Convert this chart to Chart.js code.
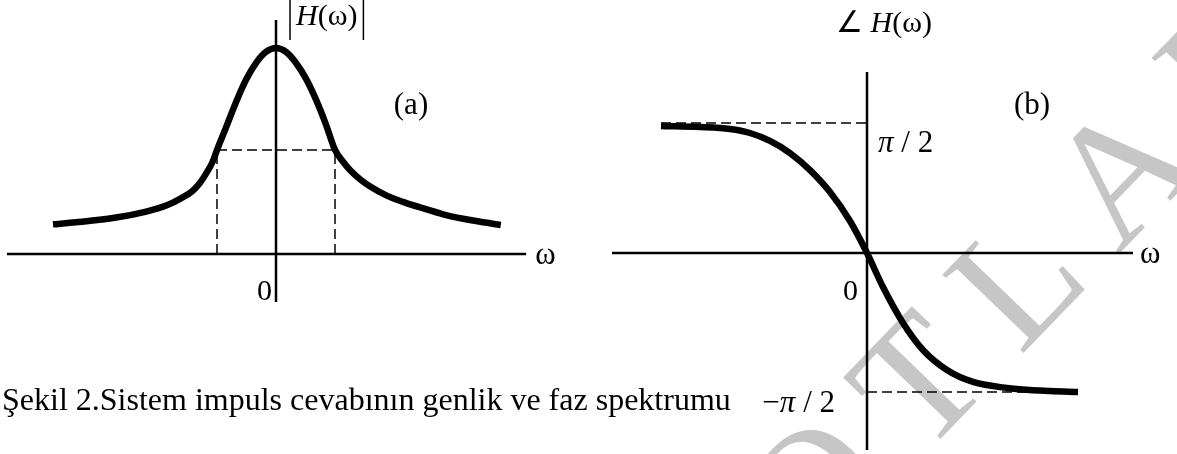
<!DOCTYPE html>
<html>
<head>
<meta charset="utf-8">
<script src="https://cdn.jsdelivr.net/npm/chart.js@4.4.1/dist/chart.umd.min.js"></script>
<style>
  html, body { margin: 0; padding: 0; background: #fff; }
  #wrap { position: relative; width: 1177px; height: 454px; overflow: hidden; }
  #wrap canvas { position: absolute; left: 0; top: 0; }
</style>
</head>
<body>
<div id="wrap">
  <canvas id="magChart" width="1177" height="454"></canvas>
  <canvas id="phaseChart" width="1177" height="454"></canvas>
</div>
<script>
// (a) amplitude |H(w)|, w in cut-off units, value relative to the peak
const magW   = [-3.78, -3.39, -2.71, -2.2, -1.86, -1.61, -1.42, -1.29, -1.19, -1.08, -1.0, -0.85, -0.68, -0.51, -0.34, -0.17, 0,
                0.17, 0.34, 0.51, 0.68, 0.85, 1.0, 1.14, 1.27, 1.44, 1.61, 1.86, 2.2, 2.54, 2.88, 3.39, 3.81];
const magVal = [0.144, 0.154, 0.177, 0.206, 0.235, 0.27, 0.305, 0.345, 0.388, 0.444, 0.505, 0.612, 0.736, 0.845, 0.927, 0.981, 1.0,
                0.981, 0.927, 0.85, 0.748, 0.626, 0.505, 0.447, 0.403, 0.359, 0.325, 0.286, 0.248, 0.218, 0.189, 0.16, 0.141];
const magCutW = [-1, 1];
const magCutLevel = 0.505;
const magAxisX = [-4.56, 4.24];
const magAxisY = [-0.233, 1.136];

// (b) phase, value in units of pi/2
const phaseW   = [-4.12, -3.34, -2.74, -2.34, -1.94, -1.54, -1.14, -0.74, -0.34, 0,
                  0.32, 0.72, 1.12, 1.6, 2.12, 2.8, 3.66, 4.22];
const phaseVal = [0.977, 0.969, 0.954, 0.923, 0.862, 0.769, 0.638, 0.469, 0.246, 0,
                  -0.262, -0.538, -0.746, -0.9, -0.992, -1.038, -1.062, -1.069];
const phaseLevels = [1.0, -1.07];
const phaseLevelLabels = ['π', ' / 2'];
const phaseAxisX = [-5.1, 5.32];
const phaseAxisY = [-1.515, 1.392];

const caption = 'Şekil 2.Sistem impuls cevabının genlik ve faz spektrumu';
const watermarkText = 'NOTLARI';

const SERIF = '"Liberation Serif", "Times New Roman", serif';
const W = 1177, H = 454;

const pts = (xs, ys) => xs.map((x, i) => ({ x, y: ys[i] }));

function seg(data, extra) {
  return Object.assign({
    data, borderColor: '#000', borderWidth: 2.5, pointRadius: 0,
    fill: false, tension: 0, borderCapStyle: 'butt'
  }, extra);
}
const dashed = { borderWidth: 1.5, borderDash: [10, 5] };

// draw runs of text one after another, each run = [text, italic?]
function runs(ctx, parts, x, y, size, align) {
  const fonts = parts.map(p => (p[1] ? 'italic ' : '') + size + 'px ' + SERIF);
  let total = 0;
  parts.forEach((p, i) => { ctx.font = fonts[i]; total += ctx.measureText(p[0]).width; });
  const left = align === 'center' ? x - total / 2 : align === 'right' ? x - total : x;
  let cx = left;
  ctx.textAlign = 'left';
  ctx.textBaseline = 'alphabetic';
  parts.forEach((p, i) => {
    ctx.font = fonts[i];
    ctx.fillText(p[0], cx, y);
    cx += ctx.measureText(p[0]).width;
  });
  return [left, total];
}

// faint diagonal watermark behind both panels
const watermark = {
  id: 'watermark',
  beforeDatasetsDraw(chart) {
    const ctx = chart.ctx;
    ctx.save();
    ctx.translate(922, 458);
    ctx.rotate(-46 * Math.PI / 180);
    ctx.font = '172px ' + SERIF;
    ctx.fillStyle = '#c6c6c6';
    ctx.textBaseline = 'alphabetic';
    const sp = 36;
    let x = -['N', 'O'].reduce((s, c) => s + ctx.measureText(c).width + sp, 0);
    for (const c of watermarkText) {
      ctx.fillText(c, x, 0);
      x += ctx.measureText(c).width + sp;
    }
    ctx.restore();
  }
};

const magLabels = {
  id: 'magLabels',
  afterDatasetsDraw(chart) {
    const ctx = chart.ctx, xs = chart.scales.x, ys = chart.scales.y;
    const x0 = xs.getPixelForValue(0), y0 = ys.getPixelForValue(0);
    ctx.save();
    ctx.fillStyle = '#000';
    runs(ctx, [['0', false]], x0 - 4, y0 + 46, 30, 'right');
    runs(ctx, [['ω', false]], xs.getPixelForValue(magAxisX[1]) + 9, y0 + 10, 31, 'left');
    runs(ctx, [['(a)', false]], x0 + 135, 114, 31, 'center');
    const [lx, w] = runs(ctx, [['H', true], ['(ω)', false]], x0 + 20, 25, 30, 'left');
    ctx.strokeStyle = '#000';
    ctx.lineWidth = 1.5;
    ctx.beginPath();
    ctx.moveTo(lx - 6, 0); ctx.lineTo(lx - 6, 40);
    ctx.moveTo(lx + w + 6, 0); ctx.lineTo(lx + w + 6, 40);
    ctx.stroke();
    runs(ctx, [[caption, false]], 2, 410, 32, 'left');
    ctx.restore();
  }
};

const phaseLabels = {
  id: 'phaseLabels',
  afterDatasetsDraw(chart) {
    const ctx = chart.ctx, xs = chart.scales.x, ys = chart.scales.y;
    const x0 = xs.getPixelForValue(0), y0 = ys.getPixelForValue(0);
    const yTop = ys.getPixelForValue(phaseLevels[0]);
    const yBot = ys.getPixelForValue(phaseLevels[1]);
    ctx.save();
    ctx.fillStyle = '#000';
    runs(ctx, [['0', false]], x0 - 9, y0 + 47, 30, 'right');
    runs(ctx, [['ω', false]], xs.getPixelForValue(phaseAxisX[1]) + 7, y0 + 10, 31, 'left');
    runs(ctx, [['(b)', false]], x0 + 165, 114, 31, 'center');
    runs(ctx, [['∠ ', false], ['H', true], ['(ω)', false]], x0 + 17, 32, 30, 'center');
    runs(ctx, [[phaseLevelLabels[0], true], [phaseLevelLabels[1], false]], x0 + 11, yTop + 29, 31, 'left');
    runs(ctx, [['−', false], [phaseLevelLabels[0], true], [phaseLevelLabels[1], false]], x0 - 32, yBot + 20, 31, 'right');
    ctx.restore();
  }
};

function baseOptions(xMin, xMax, yMin, yMax) {
  return {
    responsive: false, animation: false, events: [],
    layout: { padding: 0 },
    plugins: { legend: { display: false }, tooltip: { enabled: false } },
    scales: {
      x: { type: 'linear', display: false, min: xMin, max: xMax },
      y: { type: 'linear', display: false, min: yMin, max: yMax }
    }
  };
}

// amplitude panel: origin at (276, 254), 59 px per w unit, 206 px for the peak
new Chart(document.getElementById('magChart'), {
  type: 'line',
  data: {
    datasets: [
      seg(pts(magAxisX, [0, 0])),
      seg(pts([0, 0], magAxisY)),
      seg(pts(magCutW, [magCutLevel, magCutLevel]), dashed),
      seg(pts([magCutW[0], magCutW[0]], [0, magCutLevel]), dashed),
      seg(pts([magCutW[1], magCutW[1]], [0, magCutLevel]), dashed),
      seg(pts(magW, magVal), { borderWidth: 6.5, cubicInterpolationMode: 'monotone' })
    ]
  },
  options: baseOptions(-276 / 59, (W - 276) / 59, -(H - 254) / 206, 254 / 206),
  plugins: [watermark, magLabels]
});

// phase panel: origin at (867, 253), 50 px per w unit, 130 px per pi/2
new Chart(document.getElementById('phaseChart'), {
  type: 'line',
  data: {
    datasets: [
      seg(pts(phaseAxisX, [0, 0])),
      seg(pts([0, 0], phaseAxisY)),
      seg(pts([phaseW[0], 0], [phaseLevels[0], phaseLevels[0]]), dashed),
      seg(pts([0, phaseW[phaseW.length - 1]], [phaseLevels[1], phaseLevels[1]]), dashed),
      seg(pts(phaseW, phaseVal), { borderWidth: 6.5, cubicInterpolationMode: 'monotone' })
    ]
  },
  options: baseOptions(-867 / 50, (W - 867) / 50, -(H - 253) / 130, 253 / 130),
  plugins: [phaseLabels]
});
</script>
</body>
</html>
